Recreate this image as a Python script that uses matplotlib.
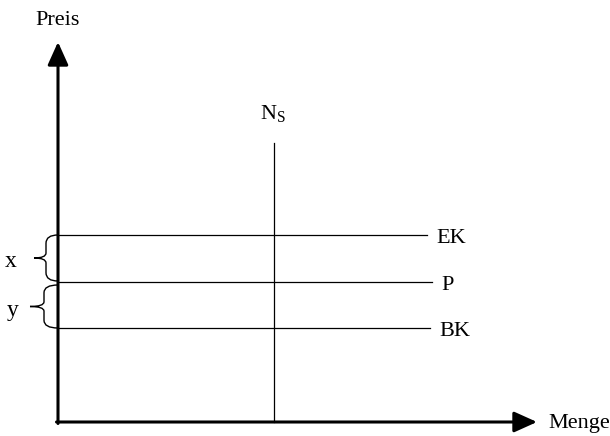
import numpy as np
import matplotlib
matplotlib.use("Agg")
import matplotlib.pyplot as plt
from matplotlib.path import Path
from matplotlib.patches import PathPatch

plt.rcParams['font.family'] = ['Liberation Serif', 'DejaVu Serif']

# levels of the horizontal lines (price), origin at the axis crossing
level_names = ["EK", "P", "BK"]
level_values = [187, 140, 94]
level_ends = [369, 374, 372]
ns_x = 216
ns_top = 279
x_max = 479
y_max = 380

def brace(ax, y0, y1, x_right, x_back, x_tip):
    # curly brace opening to the right, tip pointing left
    ym = (y0 + y1) / 2.0
    r = (y0 - y1) * 0.18
    verts = [(x_right, y0), (x_back, y0), (x_back, y0 - r), (x_back, y0 - r),
             (x_back, ym + r * 0.6), (x_back, ym), (x_tip, ym),
             (x_back, ym), (x_back, ym - r * 0.6), (x_back, y1 + r),
             (x_back, y1 + r), (x_back, y1), (x_right, y1)]
    codes = [Path.MOVETO, Path.CURVE3, Path.CURVE3, Path.LINETO,
             Path.LINETO, Path.CURVE3, Path.CURVE3,
             Path.CURVE3, Path.CURVE3, Path.LINETO,
             Path.LINETO, Path.CURVE3, Path.CURVE3]
    ax.add_patch(PathPatch(Path(verts, codes), fill=False, lw=1.0, color='black'))

fig = plt.figure(figsize=(6.1, 4.36), dpi=100)
ax = fig.add_axes([0, 0, 1, 1])
ax.set_xlim(-58, 552)
ax.set_ylim(-14, 422)
ax.axis('off')

# axes with arrows
aprops = dict(arrowstyle='-|>,head_length=1.0,head_width=0.45', lw=2.2, color='black',
              mutation_scale=14, shrinkA=0, shrinkB=0)
ax.annotate('', xy=(0, y_max), xytext=(0, -1.5), arrowprops=aprops)
ax.annotate('', xy=(x_max, 0), xytext=(-1.5, 0), arrowprops=aprops)
ax.text(0, 397, "Preis", ha='center', va='baseline', fontsize=16)
ax.text(490, -6, "Menge", ha='left', va='baseline', fontsize=16)

# horizontal lines
for name, v, e in zip(level_names, level_values, level_ends):
    ax.plot([0, e], [v, v], color='black', lw=0.9)
    ax.text(e + 9, v - 8, name, ha='left', va='baseline', fontsize=16)

# vertical line N_S
ax.plot([ns_x, ns_x], [0, ns_top], color='black', lw=0.9)
ax.text(ns_x - 1, ns_top + 24, r"N$_\mathregular{S}$", ha='center', va='baseline', fontsize=16)

# braces
brace(ax, level_values[0], level_values[1] + 1, 0, -12, -24)
brace(ax, level_values[1] - 3, level_values[2], 0, -14, -28)
ax.text(-47, 155, "x", ha='center', va='baseline', fontsize=17)
ax.text(-45, 106, "y", ha='center', va='baseline', fontsize=17)

fig.savefig("out.png", dpi=100)
